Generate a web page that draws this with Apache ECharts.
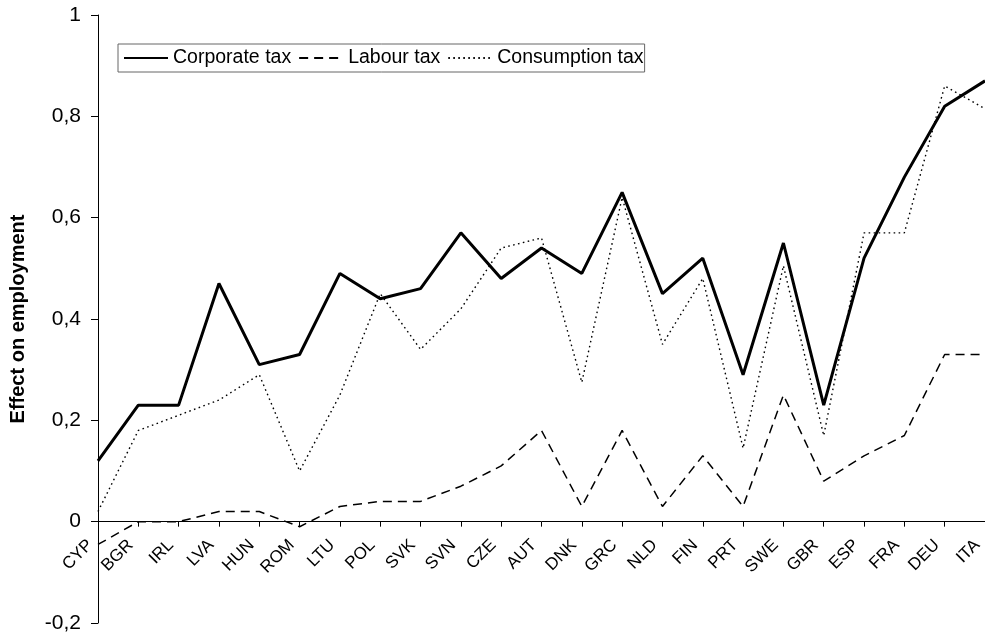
<!DOCTYPE html>
<html>
<head>
    <meta charset="utf-8" />
    <script src="https://cdn.jsdelivr.net/npm/echarts@6/dist/echarts.min.js"></script>
    <style>
        html, body { margin: 0; padding: 0; background: #fff; }
        #chart { width: 985px; height: 639px; }
    </style>
</head>
<body>
    <div id="chart"></div>
    <script type="text/javascript">
        // countries along the x axis
        var countries = ['CYP', 'BGR', 'IRL', 'LVA', 'HUN', 'ROM', 'LTU', 'POL', 'SVK', 'SVN', 'CZE', 'AUT',
            'DNK', 'GRC', 'NLD', 'FIN', 'PRT', 'SWE', 'GBR', 'ESP', 'FRA', 'DEU', 'ITA'];

        var corporateTax = [0.12, 0.23, 0.23, 0.47, 0.31, 0.33, 0.49, 0.44, 0.46, 0.57, 0.48, 0.54,
            0.49, 0.65, 0.45, 0.52, 0.29, 0.55, 0.23, 0.52, 0.68, 0.82, 0.87];
        var labourTax = [-0.045, 0, 0, 0.02, 0.02, -0.01, 0.03, 0.04, 0.04, 0.07, 0.11, 0.18,
            0.03, 0.18, 0.03, 0.13, 0.03, 0.25, 0.08, 0.13, 0.17, 0.33, 0.33];
        var consumptionTax = [0.02, 0.18, 0.21, 0.24, 0.29, 0.10, 0.25, 0.45, 0.34, 0.42, 0.54, 0.56,
            0.275, 0.64, 0.35, 0.48, 0.145, 0.505, 0.17, 0.57, 0.57, 0.86, 0.815];

        var font = 'Liberation Sans, Arial, sans-serif';

        // grid height 608px spans -0.2..1, so the zero line sits 0.2 of it above the bottom
        var gridTop = 15, gridBottom = 16;
        var zeroOffset = (639 - gridTop - gridBottom) * 0.2 / 1.2;

        var myChart = echarts.init(document.getElementById('chart'));
        var option = {
            animation: false,
            textStyle: { fontFamily: font, color: '#000' },
            grid: { left: 98, right: 0, top: gridTop, bottom: gridBottom, containLabel: false, outerBoundsMode: 'none' },
            legend: {
                left: 118,
                top: 44,
                itemWidth: 44,
                itemHeight: 14,
                itemGap: 7,
                padding: [4, 1, 4, 5],
                borderColor: '#666',
                borderWidth: 1,
                itemStyle: { color: 'transparent', borderWidth: 0, opacity: 0 },
                textStyle: { fontSize: 19.5, color: '#000', fontFamily: font },
                data: ['Corporate tax', 'Labour tax', 'Consumption tax']
            },
            xAxis: {
                type: 'category',
                data: countries,
                boundaryGap: false,
                position: 'bottom',
                offset: -zeroOffset,
                axisLine: { onZero: false, lineStyle: { color: '#000', width: 1 } },
                axisTick: { show: true, length: 5, lineStyle: { color: '#000' } },
                axisLabel: {
                    interval: 0,
                    rotate: 45,
                    margin: 13,
                    padding: [0, 11, 0, 0],
                    fontSize: 17,
                    color: '#000',
                    hideOverlap: false
                },
                splitLine: { show: false }
            },
            yAxis: {
                type: 'value',
                min: -0.2,
                max: 1,
                interval: 0.2,
                name: 'Effect on employment',
                nameLocation: 'middle',
                nameRotate: 90,
                nameGap: 70,
                nameTextStyle: { fontSize: 20, fontWeight: 'bold', color: '#000' },
                axisLine: { show: true, lineStyle: { color: '#000', width: 1 } },
                axisTick: { show: true, length: 7, lineStyle: { color: '#000' } },
                axisLabel: {
                    fontSize: 21,
                    color: '#000',
                    margin: 17,
                    formatter: function (v) {
                        return String(+v.toFixed(1)).replace('.', ',');
                    }
                },
                splitLine: { show: false }
            },
            series: [
                {
                    name: 'Corporate tax',
                    type: 'line',
                    data: corporateTax,
                    symbol: 'none',
                    lineStyle: { color: '#000', width: 3, type: 'solid' },
                    itemStyle: { color: '#000' }
                },
                {
                    name: 'Labour tax',
                    type: 'line',
                    data: labourTax,
                    symbol: 'none',
                    lineStyle: { color: '#000', width: 1.5, type: [9, 6] },
                    itemStyle: { color: '#000' }
                },
                {
                    name: 'Consumption tax',
                    type: 'line',
                    data: consumptionTax,
                    symbol: 'none',
                    lineStyle: { color: '#000', width: 1.4, type: [1.6, 3.4] },
                    itemStyle: { color: '#000' }
                }
            ]
        };
        myChart.setOption(option);
    </script>
</body>
</html>
